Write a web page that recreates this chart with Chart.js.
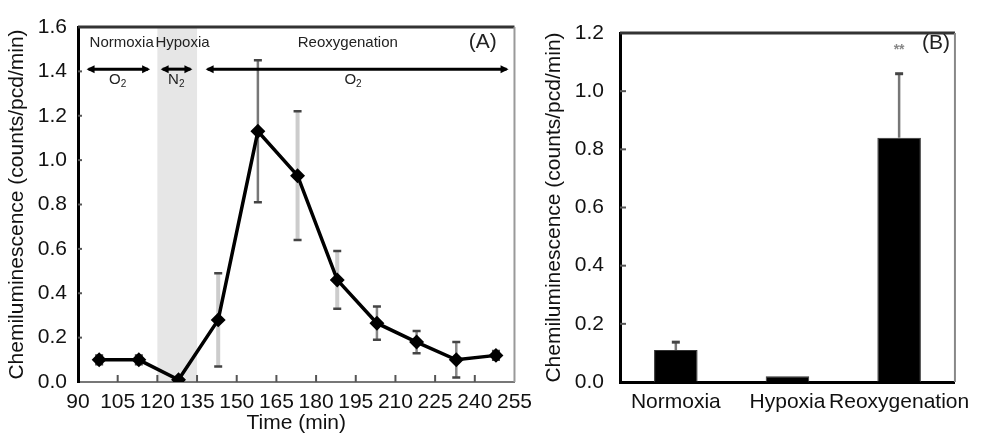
<!DOCTYPE html>
<html>
<head>
<meta charset="utf-8">
<script src="https://cdn.jsdelivr.net/npm/chart.js@4/dist/chart.umd.min.js"></script>
<style>
  body { margin: 0; background: #fff; width: 981px; height: 434px; position: relative; overflow: hidden; }
  .panel { position: absolute; top: 0; height: 434px; }
  #left { left: 0; width: 540px; }
  #right { left: 540px; width: 441px; }
</style>
</head>
<body>
<div class="panel" id="left"><canvas id="timeChart"></canvas></div>
<div class="panel" id="right"><canvas id="barChart"></canvas></div>
<script>
// panel A: time course
const times = [98, 113, 128, 143, 158, 173, 188, 203, 218, 233, 248];
const signal = [0.10, 0.10, 0.01, 0.28, 1.13, 0.93, 0.46, 0.265, 0.18, 0.10, 0.12];
const signalErr = [0.02, 0.02, 0, 0.21, 0.32, 0.29, 0.13, 0.075, 0.05, 0.08, 0.02];
const errStem = ['#555', '#555', '#555', '#ccc', '#777', '#ccc', '#ccc', '#888', '#888', '#888', '#555'];

const hypoxiaWindow = [120, 135];
const phaseNames = ['Normoxia', 'Hypoxia', 'Reoxygenation'];
const phaseX = [106.5, 129.5, 192];
const gasNames = ['O', 'N', 'O'];
const gasX = [105, 127, 194];
const gasSpans = [[94, 116.5], [122, 132.5], [139, 252]];

// panel B: means
const conditions = ['Normoxia', 'Hypoxia', 'Reoxygenation'];
const meanSignal = [0.11, 0.02, 0.84];
const meanErr = [0.027, 0, 0.22];

Chart.defaults.font.family = '"Liberation Sans", Arial, sans-serif';
Chart.defaults.font.size = 21;
Chart.defaults.color = '#111';

function drawFrame(ctx, a, rightColor) {
    ctx.save();
    ctx.lineWidth = 3;
    ctx.strokeStyle = '#333';
    ctx.beginPath();
    ctx.moveTo(a.left, a.top);
    ctx.lineTo(a.right, a.top);
    ctx.stroke();
    ctx.lineWidth = 2;
    ctx.strokeStyle = rightColor;
    ctx.beginPath();
    ctx.moveTo(a.right, a.top);
    ctx.lineTo(a.right, a.bottom);
    ctx.stroke();
    ctx.restore();
}

function innerYTicks(ctx, scale, a, len) {
    ctx.save();
    ctx.strokeStyle = '#555';
    ctx.lineWidth = 2;
    scale.ticks.forEach((t, i) => {
        if (i === 0 || i === scale.ticks.length - 1) return;
        const py = scale.getPixelForTick(i);
        ctx.beginPath();
        ctx.moveTo(a.left, py);
        ctx.lineTo(a.left + len, py);
        ctx.stroke();
    });
    ctx.restore();
}

function arrowHead(ctx, x, y, dir) {
    ctx.beginPath();
    ctx.moveTo(x, y);
    ctx.lineTo(x - dir * 8, y - 4);
    ctx.lineTo(x - dir * 8, y + 4);
    ctx.closePath();
    ctx.fill();
}

const leftExtras = {
    id: 'leftExtras',
    beforeDraw(chart) {
        const {ctx, chartArea: a, scales: {x}} = chart;
        const x0 = x.getPixelForValue(hypoxiaWindow[0]);
        const x1 = x.getPixelForValue(hypoxiaWindow[1]);
        ctx.save();
        ctx.fillStyle = '#e6e6e6';
        ctx.fillRect(x0, a.top, x1 - x0, a.bottom - a.top);
        ctx.restore();
    },
    beforeDatasetsDraw(chart) {
        const {ctx, scales: {x, y}} = chart;
        ctx.save();
        times.forEach((t, i) => {
            if (!signalErr[i]) return;
            const px = x.getPixelForValue(t);
            const top = y.getPixelForValue(signal[i] + signalErr[i]);
            const bot = y.getPixelForValue(signal[i] - signalErr[i]);
            ctx.strokeStyle = errStem[i];
            ctx.lineWidth = errStem[i] === '#ccc' ? 4 : 2.5;
            ctx.beginPath();
            ctx.moveTo(px, top);
            ctx.lineTo(px, bot);
            ctx.stroke();
            ctx.strokeStyle = '#444';
            ctx.lineWidth = 2.5;
            ctx.beginPath();
            ctx.moveTo(px - 4, top); ctx.lineTo(px + 4, top);
            ctx.moveTo(px - 4, bot); ctx.lineTo(px + 4, bot);
            ctx.stroke();
        });
        ctx.restore();
    },
    afterDraw(chart) {
        const {ctx, chartArea: a, scales: {x, y}} = chart;
        drawFrame(ctx, a, '#999');
        innerYTicks(ctx, y, a, 4);

        // bottom inner ticks
        ctx.save();
        ctx.strokeStyle = '#555';
        ctx.lineWidth = 2;
        x.ticks.forEach((t, i) => {
            if (i === 0 || i === x.ticks.length - 1) return;
            const px = x.getPixelForTick(i);
            ctx.beginPath();
            ctx.moveTo(px, a.bottom);
            ctx.lineTo(px, a.bottom - 7);
            ctx.stroke();
        });

        // phase names
        ctx.fillStyle = '#222';
        ctx.textAlign = 'center';
        ctx.textBaseline = 'middle';
        ctx.font = '15px "Liberation Sans", Arial, sans-serif';
        phaseNames.forEach((n, i) => ctx.fillText(n, x.getPixelForValue(phaseX[i]), y.getPixelForValue(1.53)));
        ctx.font = '21px "Liberation Sans", Arial, sans-serif';
        ctx.fillText('(A)', x.getPixelForValue(243), y.getPixelForValue(1.53));

        // gas arrows
        ctx.strokeStyle = '#000';
        ctx.fillStyle = '#000';
        ctx.lineWidth = 3;
        const ay = y.getPixelForValue(1.41);
        gasSpans.forEach(([s, e]) => {
            const xs = x.getPixelForValue(s), xe = x.getPixelForValue(e);
            ctx.beginPath();
            ctx.moveTo(xs, ay);
            ctx.lineTo(xe, ay);
            ctx.stroke();
            arrowHead(ctx, xs - 2, ay, -1);
            arrowHead(ctx, xe + 2, ay, 1);
        });

        // gas labels with subscript
        const gy = y.getPixelForValue(1.36);
        ctx.fillStyle = '#222';
        gasNames.forEach((g, i) => {
            const gx = x.getPixelForValue(gasX[i]);
            ctx.font = '15px "Liberation Sans", Arial, sans-serif';
            ctx.textAlign = 'right';
            ctx.fillText(g, gx + 3, gy);
            ctx.font = '10px "Liberation Sans", Arial, sans-serif';
            ctx.textAlign = 'left';
            ctx.fillText('2', gx + 3, gy + 4);
        });
        ctx.restore();
    }
};

const rightExtras = {
    id: 'rightExtras',
    afterDatasetsDraw(chart) {
        const {ctx, scales: {x, y}} = chart;
        ctx.save();
        conditions.forEach((c, i) => {
            if (!meanErr[i]) return;
            const px = x.getPixelForValue(i);
            const top = y.getPixelForValue(meanSignal[i] + meanErr[i]);
            const base = y.getPixelForValue(meanSignal[i]);
            ctx.strokeStyle = '#777';
            ctx.lineWidth = 2.5;
            ctx.beginPath();
            ctx.moveTo(px, base);
            ctx.lineTo(px, top);
            ctx.stroke();
            ctx.strokeStyle = '#444';
            ctx.lineWidth = 3;
            ctx.beginPath();
            ctx.moveTo(px - 4, top);
            ctx.lineTo(px + 4, top);
            ctx.stroke();
        });
        ctx.restore();
    },
    afterDraw(chart) {
        const {ctx, chartArea: a, scales: {x, y}} = chart;
        drawFrame(ctx, a, '#888');
        innerYTicks(ctx, y, a, 6);
        ctx.save();
        ctx.fillStyle = '#888';
        ctx.textAlign = 'center';
        ctx.textBaseline = 'middle';
        ctx.font = 'bold 14px "Liberation Sans", Arial, sans-serif';
        ctx.fillText('**', x.getPixelForValue(2), y.getPixelForValue(1.14));
        ctx.fillStyle = '#222';
        ctx.font = '21px "Liberation Sans", Arial, sans-serif';
        ctx.fillText('(B)', a.right - 19, y.getPixelForValue(1.165));
        ctx.restore();
    }
};

const yTitle = 'Chemiluminescence (counts/pcd/min)';

new Chart(document.getElementById('timeChart'), {
    type: 'line',
    data: {
        datasets: [{
            data: times.map((t, i) => ({x: t, y: signal[i]})),
            borderColor: '#000',
            backgroundColor: '#000',
            borderWidth: 3.5,
            pointStyle: 'rectRot',
            pointRadius: 5,
            tension: 0
        }]
    },
    options: {
        responsive: true,
        maintainAspectRatio: false,
        animation: false,
        layout: {padding: {top: 27, right: 22, left: 0, bottom: 0}},
        plugins: {legend: {display: false}, tooltip: {enabled: false}},
        scales: {
            x: {
                type: 'linear',
                min: 90, max: 255,
                grid: {display: false, drawTicks: false},
                border: {color: '#777', width: 2},
                ticks: {stepSize: 15, autoSkip: false, maxRotation: 0, padding: 8},
                title: {display: true, text: 'Time (min)', font: {size: 21, lineHeight: 1}, padding: {top: 0, bottom: 0}},
                afterFit(s) { s.height = 52; }
            },
            y: {
                min: 0, max: 1.6,
                grid: {display: false, drawTicks: false},
                border: {color: '#000', width: 3},
                ticks: {stepSize: 0.2, padding: 11, callback: v => v.toFixed(1)},
                title: {display: true, text: yTitle, font: {size: 21}, padding: {top: 5, bottom: 0}},
                afterFit(s) { s.width = 78; }
            }
        }
    },
    plugins: [leftExtras]
});

new Chart(document.getElementById('barChart'), {
    type: 'bar',
    data: {
        labels: conditions,
        datasets: [{
            data: meanSignal,
            backgroundColor: '#000',
            borderColor: '#333',
            borderWidth: 1,
            categoryPercentage: 1,
            barPercentage: 0.39
        }]
    },
    options: {
        responsive: true,
        maintainAspectRatio: false,
        animation: false,
        layout: {padding: {top: 33, right: 23, left: 0, bottom: 0}},
        plugins: {legend: {display: false}, tooltip: {enabled: false}},
        scales: {
            x: {
                grid: {display: false, drawTicks: false},
                border: {color: '#000', width: 3},
                ticks: {autoSkip: false, maxRotation: 0, padding: 8},
                afterFit(s) { s.height = 52; }
            },
            y: {
                min: 0, max: 1.2,
                grid: {display: false, drawTicks: false},
                border: {color: '#000', width: 3},
                ticks: {stepSize: 0.2, padding: 16, callback: v => v.toFixed(1)},
                title: {display: true, text: yTitle, font: {size: 21}, padding: {top: 2, bottom: 0}},
                afterFit(s) { s.width = 80; }
            }
        }
    },
    plugins: [rightExtras]
});
</script>
</body>
</html>
